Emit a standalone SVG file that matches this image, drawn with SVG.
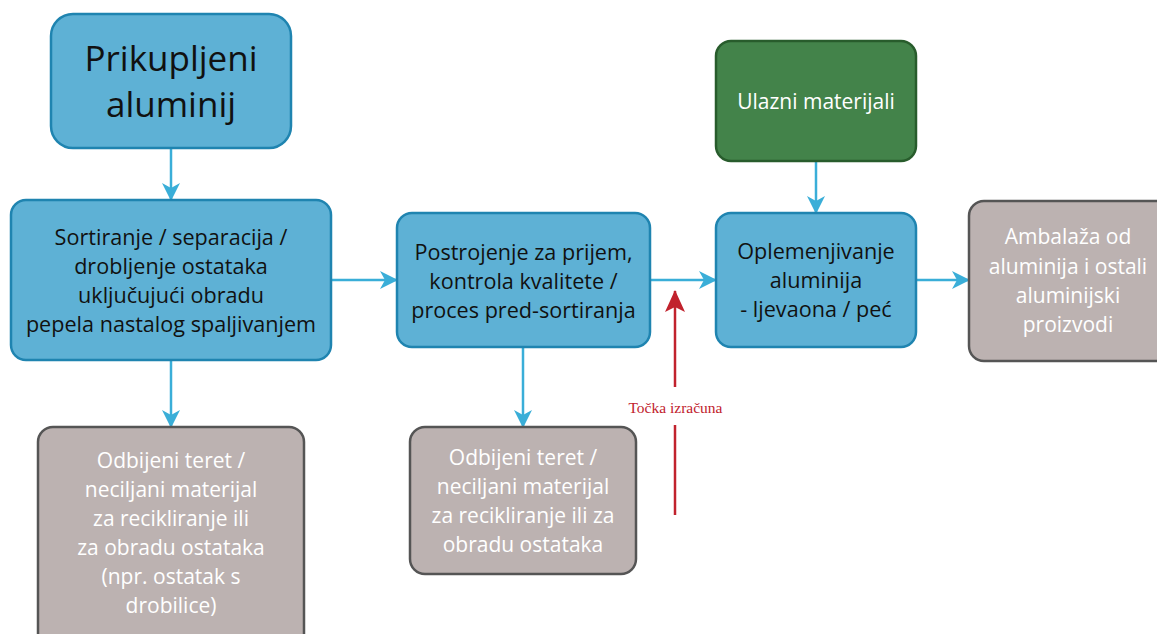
<svg xmlns="http://www.w3.org/2000/svg" width="1157" height="634" viewBox="0 0 1157 634">
<style>
.blue{fill:#5eb1d5;stroke:#1f84b0;stroke-width:2.5}
.gray{fill:#bcb2b1;stroke:#555;stroke-width:2.5}
.green{fill:#43834a;stroke:#285c2c;stroke-width:2.5}
text{font-family:"Open Sans","Noto Sans",sans-serif;text-anchor:middle}
.dk{fill:#111111;font-size:21.6px}
.wt{fill:#ffffff;font-size:21px}
.con{stroke:#3aaed8;stroke-width:2.5;fill:none;marker-end:url(#ah)}
.red{stroke:#c1222d;stroke-width:2.5;fill:none}
</style>
<defs>
<marker id="ah" markerUnits="userSpaceOnUse" viewBox="0 0 18 18" markerWidth="18" markerHeight="18" refX="17" refY="9" orient="auto">
<path d="M0,0 L18,9 L0,18 L5,9 Z" fill="#3aaed8"/>
</marker>
<marker id="rh" markerUnits="userSpaceOnUse" viewBox="0 0 22 20" markerWidth="22" markerHeight="20" refX="21" refY="10" orient="auto">
<path d="M0,0 L22,10 L0,20 L5,10 Z" fill="#c1222d"/>
</marker>
</defs>
<rect width="1157" height="634" fill="#ffffff"/>
<g id="connectors">
<path class="con" d="M171,148 L171,200"/>
<path class="con" d="M331,280 L397,280"/>
<path class="con" d="M171,360 L171,427"/>
<path class="con" d="M523,347 L523,427"/>
<path class="con" d="M650,280 L716,280"/>
<path class="con" d="M816,161 L816,213"/>
<path class="con" d="M916,280 L969,280"/>
</g>
<g id="calc-point">
<path class="red" d="M675,387 L675,291" marker-end="url(#rh)"/>
<path class="red" d="M675,425 L675,515"/>
<text x="675.5" y="413" style="font-family:'Liberation Serif',serif;font-size:15.5px;fill:#c1222d">Točka izračuna</text>
</g>
<g id="n1">
<rect class="blue" x="51" y="14" width="240" height="134" rx="22"/>
<text x="171" y="71" style="font-size:35px;fill:#111111">Prikupljeni</text>
<text x="171" y="117" style="font-size:35px;fill:#111111">aluminij</text>
</g>
<g id="n2">
<rect class="blue" x="11" y="200" width="320" height="160" rx="15"/>
<text class="dk" x="171" y="245">Sortiranje / separacija /</text>
<text class="dk" x="171" y="274">drobljenje ostataka</text>
<text class="dk" x="171" y="303">uključujući obradu</text>
<text class="dk" x="171" y="332">pepela nastalog spaljivanjem</text>
</g>
<g id="n3">
<rect class="blue" x="397" y="213" width="253" height="134" rx="15"/>
<text class="dk" x="523.5" y="260">Postrojenje za prijem,</text>
<text class="dk" x="523.5" y="289">kontrola kvalitete /</text>
<text class="dk" x="523.5" y="318">proces pred-sortiranja</text>
</g>
<g id="n4">
<rect class="green" x="716" y="41" width="200" height="120" rx="15"/>
<text class="wt" x="816" y="109">Ulazni materijali</text>
</g>
<g id="n5">
<rect class="blue" x="716" y="213" width="200" height="134" rx="15"/>
<text class="dk" x="816" y="259">Oplemenjivanje</text>
<text class="dk" x="816" y="288">aluminija</text>
<text class="dk" x="816" y="317">- ljevaona / peć</text>
</g>
<g id="n6">
<rect class="gray" x="969" y="201" width="210" height="160" rx="15"/>
<text class="wt" x="1068" y="244">Ambalaža od</text>
<text class="wt" x="1068" y="274">aluminija i ostali</text>
<text class="wt" x="1068" y="303">aluminijski</text>
<text class="wt" x="1068" y="332">proizvodi</text>
</g>
<g id="n7">
<rect class="gray" x="38" y="427" width="266" height="230" rx="15"/>
<text class="wt" x="171" y="468">Odbijeni teret /</text>
<text class="wt" x="171" y="497">neciljani materijal</text>
<text class="wt" x="171" y="526">za recikliranje ili</text>
<text class="wt" x="171" y="555">za obradu ostataka</text>
<text class="wt" x="171" y="584">(npr. ostatak s</text>
<text class="wt" x="171" y="613">drobilice)</text>
</g>
<g id="n8">
<rect class="gray" x="410" y="427" width="226" height="147" rx="15"/>
<text class="wt" x="523" y="465">Odbijeni teret /</text>
<text class="wt" x="523" y="494">neciljani materijal</text>
<text class="wt" x="523" y="523">za recikliranje ili za</text>
<text class="wt" x="523" y="552">obradu ostataka</text>
</g>
</svg>
